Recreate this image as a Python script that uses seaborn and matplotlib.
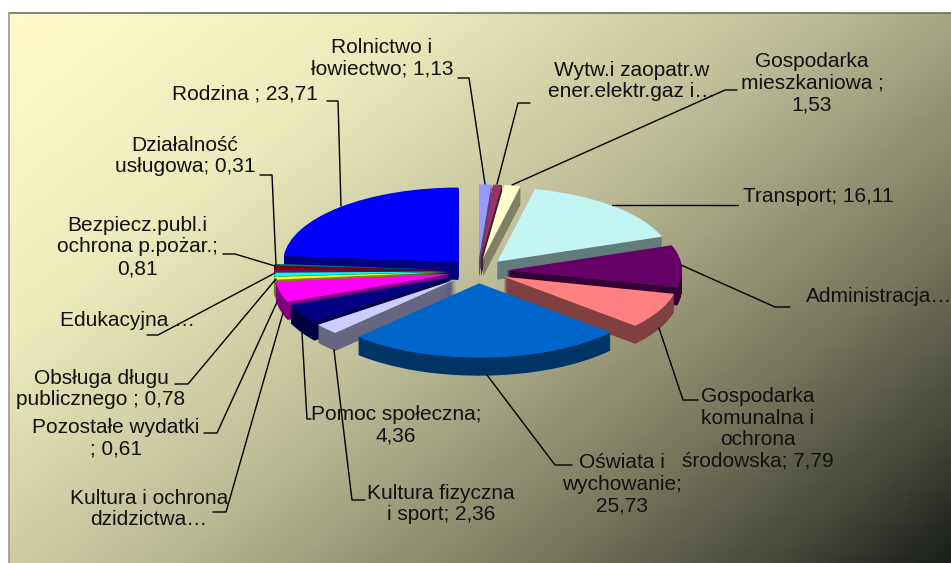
import numpy as np
import matplotlib
matplotlib.use("Agg")
import matplotlib.pyplot as plt
from matplotlib.colors import LinearSegmentedColormap
import seaborn as sns

sns.set_theme(style="white")
plt.rcParams['font.family'] = ['Liberation Sans', 'DejaVu Sans']

# Data (clockwise from 12 o'clock)
categories = ["Rolnictwo", "Wytw", "Gosp. mieszkaniowa", "Transport", "Administracja",
              "Gosp. komunalna", "Oswiata", "Kultura fizyczna", "Pomoc spoleczna", "Kultura",
              "Pozostale", "Obsluga dlugu", "Edukacyjna", "Bezpieczenstwo", "Dzialalnosc", "Rodzina"]
values = [1.13, 0.80, 1.53, 16.11, 9.20, 7.79, 25.73, 2.36, 4.36, 4.50,
          0.61, 0.78, 0.47, 0.81, 0.31, 23.71]
colors = ["#9999ff", "#993366", "#ffffcc", "#c4f5f5", "#660066", "#ff8080", "#0066cc", "#ccccff",
          "#000080", "#ff00ff", "#ffff00", "#00ffff", "#800080", "#800000", "#008080", "#0000ff"]

# text, x, y, alignment
labels = [
    ("Rolnictwo i\nłowiectwo; 1,13", 382, 58, "center"),
    ("Wytw.i zaopatr.w\nener.elektr.gaz i…", 632, 81, "center"),
    ("Gospodarka\nmieszkaniowa ;\n1,53", 812, 83, "center"),
    ("Transport; 16,11", 743, 197, "left"),
    ("Administracja…", 806, 296, "left"),
    ("Gospodarka\nkomunalna i\nochrona\nśrodowska; 7,79", 758, 429, "center"),
    ("Oświata i\nwychowanie;\n25,73", 622, 484, "center"),
    ("Kultura fizyczna\ni sport; 2,36", 441, 504, "center"),
    ("Pomoc społeczna;\n4,36", 396, 425, "center"),
    ("Kultura i ochrona\ndzidzictwa…", 149, 509, "center"),
    ("Pozostałe wydatki\n; 0,61", 116, 438, "center"),
    ("Obsługa długu\npublicznego ; 0,78", 101, 389, "center"),
    ("Edukacyjna …", 127, 321, "center"),
    ("Bezpiecz.publ.i\nochrona p.pożar.;\n0,81", 137, 247, "center"),
    ("Działalność\nusługowa; 0,31", 185, 156, "center"),
    ("Rodzina ; 23,71", 245, 94, "center"),
]
leaders = [
    [(458, 78), (469, 78), (485, 184)],
    [(530, 103), (518, 103), (497, 184)],
    [(737, 90), (725, 90), (512, 185)],
    [(738, 205), (612, 205)],
    [(790, 307), (775, 307), (681, 265)],
    [(698, 400), (683, 400), (659, 328)],
    [(572, 465), (555, 465), (487, 375)],
    [(365, 500), (352, 500), (334, 350)],
    [(311, 419), (307, 419), (302, 333)],
    [(213, 512), (226, 512), (283, 313)],
    [(204, 433), (217, 433), (277, 302)],
    [(175, 384), (188, 384), (276, 279)],
    [(147, 335), (158, 335), (275, 273)],
    [(223, 254), (235, 254), (275, 266)],
    [(260, 175), (272, 175), (276, 265)],
    [(327, 101), (338, 101), (341, 206)],
]

W, H = 951, 563
CX, CY, R, SQUASH = 478, 271, 175, 0.425
DEPTH = 18
EXPLODE = 29 / R

fig = plt.figure(figsize=(W / 100, H / 100), dpi=100, facecolor="white")

# Background gradient
bg_ax = fig.add_axes([0, 0, 1, 1], zorder=0)
xx, yy = np.meshgrid(np.linspace(0, 1, 300), np.linspace(0, 1, 200))
bg_cmap = LinearSegmentedColormap.from_list("bg", [
    (0.0, "#fffbcd"), (0.25, "#ecebbc"), (0.5, "#bdbc98"), (0.75, "#77775c"), (0.9, "#45453a"), (1.0, "#1a1f1a")])
bg_ax.imshow(0.58 * xx + 0.42 * yy, cmap=bg_cmap, vmin=0, vmax=1, extent=(9, W, H, 13), aspect="auto")
bg_ax.plot([9, W], [13, 13], color="#6e6e58", lw=1.2)
bg_ax.plot([9, 9], [13, H], color="#9a9a90", lw=1.2)
bg_ax.set_xlim(0, W)
bg_ax.set_ylim(H, 0)
bg_ax.axis("off")

# 3D looking pie: stacked pies, each slice painted back to front
pie_ax = fig.add_axes([0, 0, 1, 1], zorder=1)
pie_ax.patch.set_alpha(0)
mids = (np.cumsum(values) - np.array(values) / 2) / sum(values) * 2 * np.pi
rank = np.argsort(np.argsort(-np.cos(mids)))
side_colors = [tuple(c * 0.5 for c in col) for col in sns.color_palette(colors)]
layers = int(DEPTH * 1.5)
for k in range(layers + 1):
    dy = (layers - k) / layers * DEPTH / (R * SQUASH)
    cols = colors if k == layers else side_colors
    wedges, _ = pie_ax.pie(values, colors=cols, explode=[EXPLODE] * len(values), startangle=90,
                           counterclock=False, center=(0, -dy), radius=1,
                           wedgeprops={"linewidth": 0}, normalize=True)
    for w, r in zip(wedges, rank):
        w.set_zorder(r * 100 + k)
pie_ax.set_aspect("auto")
pie_ax.set_xlim(-CX / R, (W - CX) / R)
pie_ax.set_ylim((CY - H) / (R * SQUASH), CY / (R * SQUASH))
pie_ax.axis("off")

# Labels and leader lines, in picture pixels
txt_ax = fig.add_axes([0, 0, 1, 1], zorder=2)
txt_ax.patch.set_alpha(0)
txt_ax.set_xlim(0, W)
txt_ax.set_ylim(H, 0)
txt_ax.axis("off")
for pts in leaders:
    txt_ax.plot([p[0] for p in pts], [p[1] for p in pts], color="black", lw=1.0)
for text, x, y, ha in labels:
    txt_ax.text(x, y, text, ha=ha, va="center", multialignment="center",
                fontsize=15, color="#111111", linespacing=1.17, clip_on=True)

fig.savefig("out.png", dpi=100)
